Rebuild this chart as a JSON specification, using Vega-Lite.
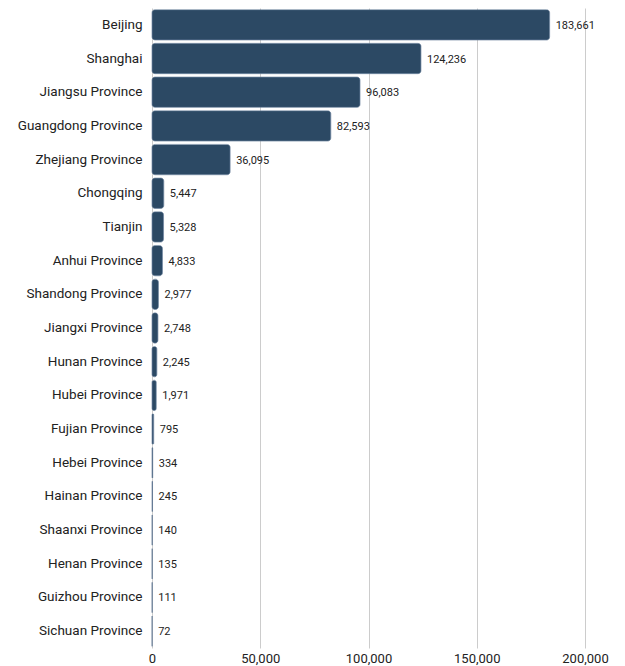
{
  "$schema": "https://vega.github.io/schema/vega-lite/v6.json",
  "width": 433,
  "height": 640,
  "autosize": {"type": "none"},
  "padding": {"left": 152, "top": 8, "right": 40, "bottom": 18},
  "background": "white",
  "config": {"view": {"stroke": null}, "font": "Roboto"},
  "data": {
    "values": [
      {"region": "Beijing", "value": 183661},
      {"region": "Shanghai", "value": 124236},
      {"region": "Jiangsu Province", "value": 96083},
      {"region": "Guangdong Province", "value": 82593},
      {"region": "Zhejiang Province", "value": 36095},
      {"region": "Chongqing", "value": 5447},
      {"region": "Tianjin", "value": 5328},
      {"region": "Anhui Province", "value": 4833},
      {"region": "Shandong Province", "value": 2977},
      {"region": "Jiangxi Province", "value": 2748},
      {"region": "Hunan Province", "value": 2245},
      {"region": "Hubei Province", "value": 1971},
      {"region": "Fujian Province", "value": 795},
      {"region": "Hebei Province", "value": 334},
      {"region": "Hainan Province", "value": 245},
      {"region": "Shaanxi Province", "value": 140},
      {"region": "Henan Province", "value": 135},
      {"region": "Guizhou Province", "value": 111},
      {"region": "Sichuan Province", "value": 72}
    ]
  },
  "encoding": {
    "y": {
      "field": "region",
      "type": "nominal",
      "sort": {"field": "value", "order": "descending"},
      "scale": {"paddingInner": 0.1, "paddingOuter": 0.05},
      "axis": {
        "title": null,
        "domain": false,
        "ticks": false,
        "labelPadding": 10,
        "labelFontSize": 13.5,
        "labelColor": "#222222",
        "labelFont": "Roboto",
        "grid": false
      }
    },
    "x": {
      "field": "value",
      "type": "quantitative",
      "scale": {"domain": [0, 200000], "nice": false},
      "axis": {
        "title": null,
        "domain": false,
        "ticks": false,
        "values": [0, 50000, 100000, 150000, 200000],
        "labelExpr": "format(datum.value, ',')",
        "labelFontSize": 13,
        "labelColor": "#222222",
        "labelFont": "Roboto",
        "labelPadding": 4,
        "gridColor": "#cccccc",
        "labelFlush": false
      }
    }
  },
  "layer": [
    {
      "mark": {"type": "bar", "color": "#2c4964", "cornerRadius": 3, "stroke": "#5a7490", "strokeWidth": 0.6}
    },
    {
      "mark": {"type": "text", "align": "left", "baseline": "middle", "dx": 6, "dy": 1, "fontSize": 11, "color": "#222222", "font": "Roboto"},
      "encoding": {"text": {"field": "value", "type": "quantitative", "format": ","}}
    }
  ]
}
